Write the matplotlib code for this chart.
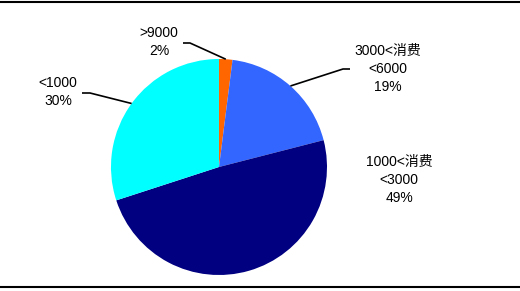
import numpy as np
import matplotlib
matplotlib.use('Agg')
import matplotlib.pyplot as plt
from matplotlib.lines import Line2D

plt.rcParams['font.family'] = ['Liberation Sans', 'Noto Sans CJK SC', 'DejaVu Sans']

# data
labels = ['>9000', '3000<消费\n<6000', '1000<消费\n<3000', '<1000']
shares = [2, 19, 49, 30]
colors = ['#FF6600', '#3366FF', '#000080', '#00FFFF']
explode = [0, 0, 0, 0.03]

W, H = 520, 291
fig = plt.figure(figsize=(W / 100, H / 100), dpi=100)
ax = fig.add_axes([0, 0, 1, 1])

cx, cy, r = 219, H - 167, 108
wedges, _ = ax.pie(shares, colors=colors, startangle=90, counterclock=False,
                   explode=explode, center=(cx, cy), radius=r,
                   wedgeprops=dict(linewidth=0))
ax.set_xlim(0, W)
ax.set_ylim(0, H)
ax.set_aspect('equal')
ax.axis('off')

# label layout: (text x, text y, elbow start x, elbow end x, elbow y) in px from top-left
layout = {
    0: (159, 42, 183, 190, 43),
    1: (388, 69, 350, 343, 69),
    2: (399, 180, None, None, None),
    3: (58, 92, 82, 90, 93),
}

for i, w in enumerate(wedges):
    tx, ty, ex0, ex1, ey = layout[i]
    ax.text(tx, H - ty, f'{labels[i]}\n{shares[i]}%', ha='center', va='center',
            fontsize=10, linespacing=1.35)
    if ex0 is None:
        continue
    ang = np.deg2rad((w.theta1 + w.theta2) / 2)
    px = w.center[0] + w.r * np.cos(ang)
    py = w.center[1] + w.r * np.sin(ang)
    ax.plot([ex0, ex1, px], [H - ey, H - ey, py], color='black', lw=1.2,
            solid_capstyle='butt')

# frame lines at top and bottom
fig.add_artist(Line2D([0, 1], [1 - 1.5 / H, 1 - 1.5 / H], color='black', lw=1.5))
fig.add_artist(Line2D([0, 1], [4 / H, 4 / H], color='black', lw=1.5))

fig.savefig('out.png', dpi=100)
